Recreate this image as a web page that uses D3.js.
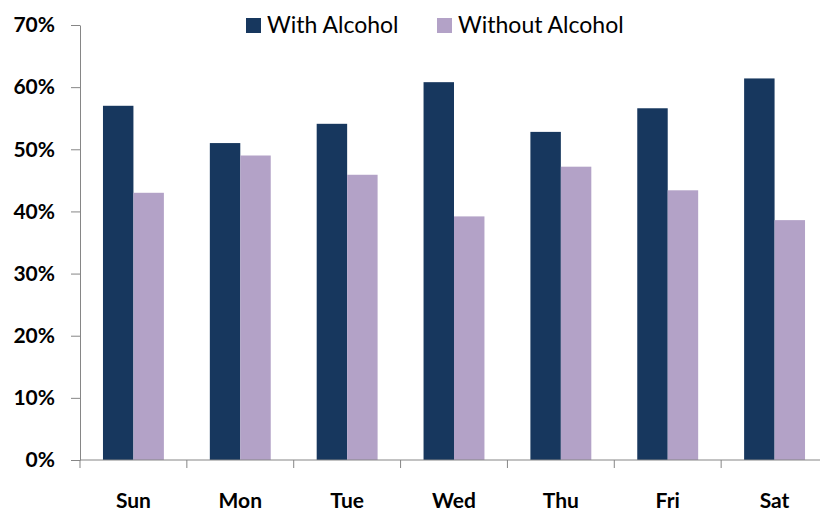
<!DOCTYPE html>
<html>
<head>
<meta charset="utf-8">
<script src="https://cdn.jsdelivr.net/npm/d3@7"></script>
<style>
  body { margin: 0; background: #fff; }
  svg { display: block; }
  .tick text { font-family: Lato, "Open Sans", sans-serif; }
</style>
</head>
<body>
<svg width="820" height="511"></svg>
<script>
// days along the x axis
var days = ['Sun', 'Mon', 'Tue', 'Wed', 'Thu', 'Fri', 'Sat'];
// share of each day
var withAlcohol = [0.57, 0.51, 0.541, 0.608, 0.528, 0.566, 0.614];
var withoutAlcohol = [0.43, 0.49, 0.459, 0.392, 0.472, 0.434, 0.386];
var seriesNames = ['With Alcohol', 'Without Alcohol'];
var yTicks = [0, 0.1, 0.2, 0.3, 0.4, 0.5, 0.6, 0.7];

var colors = ['#17375e', '#b3a2c7'];
var axisColor = '#868686';

var svg = d3.select('svg');

var x = d3.scaleBand().domain(days).range([80, 828]).paddingInner(0.43).paddingOuter(0.215);
var x1 = d3.scaleBand().domain(seriesNames).range([0, x.bandwidth()]);
var y = d3.scaleLinear().domain([0, 0.7]).range([460, 25]);

// rows for the grouped bars
var rows = days.map(function (d, i) {
  return { day: d, values: [withAlcohol[i], withoutAlcohol[i]] };
});

var groups = svg.append('g')
  .selectAll('g')
  .data(rows)
  .enter()
  .append('g')
  .attr('transform', function (d) { return 'translate(' + x(d.day) + ',0)'; });

groups.selectAll('rect')
  .data(function (d) {
    return d.values.map(function (v, i) { return { name: seriesNames[i], value: v, i: i }; });
  })
  .enter()
  .append('rect')
  .attr('x', function (d) { return x1(d.name); })
  .attr('y', function (d) { return y(d.value); })
  .attr('width', x1.bandwidth())
  .attr('height', function (d) { return y(0) - y(d.value); })
  .attr('fill', function (d) { return colors[d.i]; });

// y axis
var yAxis = svg.append('g')
  .attr('transform', 'translate(80,0)')
  .call(d3.axisLeft(y).tickValues(yTicks).tickSize(9).tickSizeOuter(0).tickPadding(16)
    .tickFormat(d3.format('.0%')));
yAxis.selectAll('.domain, line').attr('stroke', axisColor);
yAxis.selectAll('text')
  .attr('font-size', 21)
  .attr('font-weight', 'bold')
  .attr('fill', '#000');

// x axis: labels at band centres, ticks on band edges
var xAxis = svg.append('g')
  .attr('transform', 'translate(0,460)');
xAxis.append('line')
  .attr('x1', 80).attr('x2', 828)
  .attr('stroke', axisColor);
xAxis.selectAll('.edge')
  .data(days)
  .enter()
  .append('line')
  .attr('class', 'edge')
  .attr('x1', function (d) { return x(d) - x.step() * x.paddingInner() / 2; })
  .attr('x2', function (d) { return x(d) - x.step() * x.paddingInner() / 2; })
  .attr('y1', 0).attr('y2', 8)
  .attr('stroke', axisColor);
xAxis.selectAll('.lbl')
  .data(days)
  .enter()
  .append('text')
  .attr('class', 'lbl')
  .attr('x', function (d) { return x(d) + x.bandwidth() / 2; })
  .attr('y', 48)
  .attr('text-anchor', 'middle')
  .attr('font-family', 'Lato, "Open Sans", sans-serif')
  .attr('font-size', 21)
  .attr('font-weight', 'bold')
  .text(function (d) { return d; });

// legend
var legendX = [246, 437];
var legend = svg.append('g')
  .selectAll('g')
  .data(seriesNames)
  .enter()
  .append('g')
  .attr('transform', function (d, i) { return 'translate(' + legendX[i] + ',18)'; });
legend.append('rect')
  .attr('width', 15).attr('height', 15)
  .attr('fill', function (d, i) { return colors[i]; });
legend.append('text')
  .attr('x', 21)
  .attr('y', 15)
  .attr('font-family', 'Lato, "Open Sans", sans-serif')
  .attr('font-size', 23)
  .attr('fill', '#000')
  .text(function (d) { return d; });
</script>
</body>
</html>
